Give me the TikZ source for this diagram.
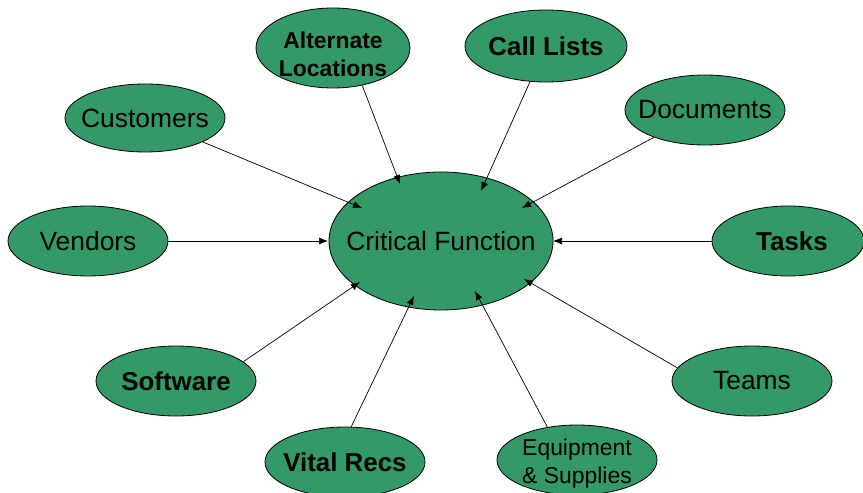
\documentclass[tikz,border=0pt]{standalone}
\usepackage{fontspec}
\setmainfont{Liberation Sans}
\usetikzlibrary{shapes.geometric,arrows.meta}
\definecolor{nodegreen}{HTML}{339966}
\tikzset{
  bub/.style={ellipse, draw=black, line width=0.8bp, fill=nodegreen, inner sep=0pt},
  big/.style={font=\fontsize{26.5}{30}\selectfont, align=center},
  small/.style={font=\fontsize{23}{28}\selectfont, align=center},
  bigb/.style={font=\fontsize{26}{30}\selectfont\bfseries, align=center},
  smallb/.style={font=\fontsize{23}{28}\selectfont\bfseries, align=center},
  conn/.style={line width=0.7bp, -{Latex[length=9bp,width=7bp]}}
}
\begin{document}
\begin{tikzpicture}[x=1bp,y=-1bp]
\useasboundingbox (0,0) rectangle (863,493);
\node[bub, minimum width=224bp, minimum height=138bp, label={[big]center:Critical Function}] (cf) at (441,241) {};
\node[bub, minimum width=160bp, minimum height=68bp, label={[big]center:Customers}] (cust) at (145,118) {};
\node[bub, minimum width=154bp, minimum height=80bp, label={[smallb, yshift=-6bp]center:Alternate\\Locations}] (alt) at (333,48) {};
\node[bub, minimum width=162bp, minimum height=72bp, label={[bigb]center:Call Lists}] (call) at (546,46) {};
\node[bub, minimum width=160bp, minimum height=70bp, label={[big]center:Documents}] (docs) at (705,110) {};
\node[bub, minimum width=160bp, minimum height=70bp, label={[big]center:Vendors}] (vend) at (88,241) {};
\node[bub, minimum width=152bp, minimum height=70bp, label={[bigb, xshift=4bp]center:Tasks}] (tasks) at (788,241) {};
\node[bub, minimum width=160bp, minimum height=70bp, label={[bigb]center:Software}] (soft) at (176,381) {};
\node[bub, minimum width=160bp, minimum height=70bp, label={[big]center:Teams}] (teams) at (752,381) {};
\node[bub, minimum width=160bp, minimum height=70bp, label={[bigb]center:Vital Recs}] (vital) at (345,462) {};
\node[bub, minimum width=160bp, minimum height=70bp, label={[small, yshift=-4bp]center:Equipment\\\& Supplies}] (equip) at (577,460) {};
\coordinate (tcust) at (362,208);
\coordinate (talt) at (400,184);
\coordinate (tcall) at (481,191);
\coordinate (tdocs) at (522,208);
\coordinate (tvend) at (328,241);
\coordinate (ttasks) at (553,241);
\coordinate (tsoft) at (360,282);
\coordinate (tvital) at (414,296);
\coordinate (tequip) at (475,291);
\coordinate (tteams) at (524,279);
\draw[conn] (cust) -- (tcust);
\draw[conn] (alt.-52) -- (talt);
\draw[conn] (call) -- (tcall);
\draw[conn] (docs) -- (tdocs);
\draw[conn] (vend) -- (tvend);
\draw[conn] (tasks) -- (ttasks);
\draw[conn] (soft.16) -- (tsoft);
\draw[conn] (vital.80) -- (tvital);
\draw[conn] (equip.132) -- (tequip);
\draw[conn] (teams.170) -- (tteams);
\end{tikzpicture}
\end{document}
